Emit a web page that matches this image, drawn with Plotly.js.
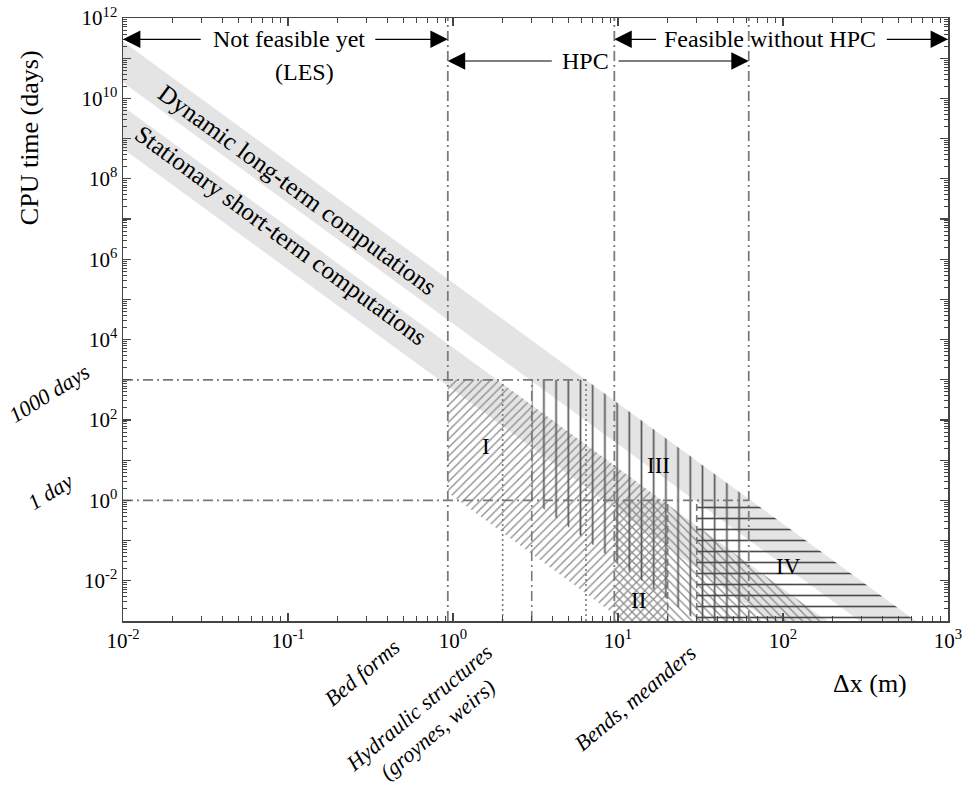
<!DOCTYPE html>
<html><head><meta charset="utf-8">
<script src="https://cdn.plot.ly/plotly-3.0.1.min.js"></script>
<style>body{margin:0;background:#fff}#chart{width:966px;height:787px}</style>
</head><body><div id="chart"></div>
<script>
// ---------------- data ----------------
const slope = -3;                       // CPU time ~ dx^-3 (log-log slope)
const bandNames = ['Dynamic long-term computations', 'Stationary short-term computations'];
const bandLowAt1m = [2.5e4, 560];       // CPU days at dx = 1 m, lower edge
const bandHighAt1m = [2.6e5, 6300];     // CPU days at dx = 1 m, upper edge

const regionNames = ['I', 'II', 'III', 'IV'];
const regionXMin = [0.93, 9.5, 3, 30];
const regionXMax = [20, 1000, 62, 1000];
const regionYMax = [1000, 1, 1000, 1];
const regionLowAt1m = [1.26, null, 27.5, null];
const regionHighAt1m = [6300, 6300, 2.6e5, 2.6e5];

const rangeNames = ['Not feasible yet', 'HPC', 'Feasible without HPC'];
const rangeStart = [0.01, 0.93, 9.5];
const rangeEnd = [0.93, 62, 1000];
const limitX = [0.93, 9.5, 62];

const thresholdDays = [1000, 1];
const thresholdLabels = ['1000 days', '1 day'];
const thresholdXEnd = [6.4, 62];

const scaleLineX = [2, 3, 6.4, 20, 30];
const scaleLineTop = [1000, 1000, 1000, 1, 1];

const xDecades = [-2, -1, 0, 1, 2, 3];
const yDecades = [-3, -2, -1, 0, 1, 2, 3, 4, 5, 6, 7, 8, 9, 10, 11, 12];

// ---------------- styles ----------------
const SERIF = 'Liberation Serif, Times New Roman, serif';
const DASHDOT = '10px,4px,2px,4px';
const scaleLineDash = ['2px,3px', DASHDOT, '2px,3px', '7px,4px', '7px,4px'];
const regionPattern = [
  {shape: '/', size: 6, solidity: 0.22, fgcolor: '#8c8c8c'},
  {shape: '\\', size: 6, solidity: 0.22, fgcolor: '#8c8c8c'},
  {shape: '|', size: 12.2, solidity: 0.14, fgcolor: '#5a5a5a'},
  {shape: '-', size: 11, solidity: 0.15, fgcolor: '#4a4a4a'}
];
const X0 = -2, X1 = 3, Y0 = -3, Y1 = 12;
const L = Math.log10;

function clip(poly, a, b, c) {
  const out = [];
  for (let i = 0; i < poly.length; i++) {
    const P = poly[i], Q = poly[(i + 1) % poly.length];
    const fp = a * P[0] + b * P[1] - c, fq = a * Q[0] + b * Q[1] - c;
    if (fp <= 0) out.push(P);
    if ((fp < 0 && fq > 0) || (fp > 0 && fq < 0)) {
      const t = fp / (fp - fq);
      out.push([P[0] + t * (Q[0] - P[0]), P[1] + t * (Q[1] - P[1])]);
    }
  }
  return out;
}
function polygon(cons) {
  let p = [[X0, Y0], [X1, Y0], [X1, Y1], [X0, Y1]];
  cons.forEach(k => { p = clip(p, k[0], k[1], k[2]); });
  p.push(p[0]);
  return {x: p.map(v => Math.pow(10, v[0])), y: p.map(v => Math.pow(10, v[1]))};
}
const below = h => [-slope, 1, L(h)];      // Y - sX <= log h
const above = l => [slope, -1, -L(l)];     // Y - sX >= log l

const traces = [];
// gray bands
bandNames.forEach((n, i) => {
  const p = polygon([below(bandHighAt1m[i]), above(bandLowAt1m[i])]);
  traces.push({x: p.x, y: p.y, type: 'scatter', mode: 'none', fill: 'toself',
    fillcolor: '#e4e4e4', hoverinfo: 'skip', name: n});
});
// hatched regions
regionNames.forEach((n, i) => {
  const cons = [[-1, 0, -L(regionXMin[i])], [1, 0, L(regionXMax[i])], [0, 1, L(regionYMax[i])],
    below(regionHighAt1m[i])];
  if (regionLowAt1m[i] !== null) cons.push(above(regionLowAt1m[i]));
  const p = polygon(cons);
  const pat = Object.assign({bgcolor: 'rgba(0,0,0,0)', fillmode: 'replace'}, regionPattern[i]);
  traces.push({x: p.x, y: p.y, type: 'scatter', mode: 'none', fill: 'toself',
    fillcolor: 'rgba(0,0,0,0)', fillpattern: pat, hoverinfo: 'skip', name: n});
});
// structure scale lines
scaleLineX.forEach((v, i) => {
  traces.push({x: [v, v], y: [Math.pow(10, Y0), scaleLineTop[i]], type: 'scatter', mode: 'lines',
    line: {color: '#7a7a7a', width: 1.6, dash: scaleLineDash[i]}, hoverinfo: 'skip'});
});
// threshold lines
thresholdDays.forEach((d, i) => {
  traces.push({x: [Math.pow(10, X0), thresholdXEnd[i]], y: [d, d], type: 'scatter', mode: 'lines',
    line: {color: '#777', width: 1.8, dash: DASHDOT}, hoverinfo: 'skip'});
});
// feasibility limits
limitX.forEach(v => {
  traces.push({x: [v, v], y: [Math.pow(10, Y0), Math.pow(10, Y1)], type: 'scatter', mode: 'lines',
    line: {color: '#7c7c7c', width: 1.8, dash: DASHDOT}, hoverinfo: 'skip'});
});

// ---------------- annotations ----------------
const ann = [];
const f = (s, extra) => Object.assign({family: SERIF, size: s, color: '#000'}, extra || {});
const C = {xanchor: 'center', yanchor: 'middle'};
// range arrows: row (log y), text centre, left tail, right tail (log x)
const rowY = [11.47, 10.93, 11.47];
const textC = [-0.994, 0.80, 1.921];
const tailL = [-1.52, 0.608, 1.24];
const tailR = [-0.48, 0.994, 2.62];
const arrowStyle = {text: '', showarrow: true, arrowhead: 2, arrowsize: 2.9, arrowwidth: 1.2,
  arrowcolor: '#000', standoff: 0, startstandoff: 0, axref: 'x', ayref: 'y', xref: 'x', yref: 'y'};
rangeNames.forEach((n, i) => {
  ann.push(Object.assign({x: L(rangeStart[i]), y: rowY[i], ax: tailL[i], ay: rowY[i]}, arrowStyle));
  ann.push(Object.assign({x: L(rangeEnd[i]), y: rowY[i], ax: tailR[i], ay: rowY[i]}, arrowStyle));
  ann.push(Object.assign({x: textC[i], y: rowY[i], xref: 'x', yref: 'y', text: n, showarrow: false, font: f(24)}, C));
});
ann.push(Object.assign({x: -0.903, y: 10.66, xref: 'x', yref: 'y', text: '(LES)', showarrow: false, font: f(24)}, C));

// band labels along the bands
const plotW = 825, plotH = 603;
const angle = Math.atan(-slope * (plotH / (Y1 - Y0)) / (plotW / (X1 - X0))) * 180 / Math.PI;
const bandLabelX = [-0.945, -1.04];
const bandLabelDy = [0, 0.2];
bandNames.forEach((n, i) => {
  const c = (L(bandLowAt1m[i]) + L(bandHighAt1m[i])) / 2;
  ann.push(Object.assign({x: bandLabelX[i], y: c + slope * bandLabelX[i] + bandLabelDy[i], xref: 'x', yref: 'y',
    text: n, showarrow: false, textangle: angle, font: f(25)}, C));
});
// region labels
const regLabX = [0.2, 1.127, 1.248, 2.036];
const regLabY = [1.34, -2.49, 0.87, -1.64];
regionNames.forEach((n, i) => {
  ann.push(Object.assign({x: regLabX[i], y: regLabY[i], xref: 'x', yref: 'y', text: n, showarrow: false, font: f(23)}, C));
});
// threshold labels
const thrLabPos = [[-0.090, 0.378], [-0.088, 0.215]];
thresholdLabels.forEach((t, i) => {
  ann.push(Object.assign({x: thrLabPos[i][0], y: thrLabPos[i][1], xref: 'paper', yref: 'paper', text: '<i>' + t + '</i>',
    showarrow: false, textangle: -32, font: f(22)}, C));
});
// structure labels
const structLabels = ['Bed forms', 'Hydraulic structures<br>(groynes, weirs)', 'Bends, meanders'];
const structPos = [[0.290, -0.085], [0.370, -0.163], [0.620, -0.128]];
structLabels.forEach((t, i) => {
  ann.push(Object.assign({x: structPos[i][0], y: structPos[i][1], xref: 'paper', yref: 'paper', text: '<i>' + t + '</i>',
    showarrow: false, textangle: -40, font: f(22)}, C));
});
ann.push(Object.assign({x: 0.905, y: -0.103, xref: 'paper', yref: 'paper', text: '\u0394x (m)', showarrow: false, font: f(26)}, C));
ann.push(Object.assign({x: -0.113, y: 0.802, xref: 'paper', yref: 'paper', text: 'CPU time (days)', showarrow: false,
  textangle: -90, font: f(26)}, C));

// ---------------- axes ----------------
function minorVals(decs) {
  const out = [];
  for (let k = decs[0]; k < decs[decs.length - 1]; k++) for (let m = 2; m <= 9; m++) out.push(m * Math.pow(10, k));
  return out;
}
const axisCommon = {type: 'log', showgrid: false, zeroline: false, showline: true, linecolor: '#444',
  linewidth: 1.5, mirror: 'allticks', ticks: 'inside', ticklen: 8, tickcolor: '#444', tickwidth: 1.2,
  tickmode: 'array', tickfont: f(21)};
const layout = {
  width: 966, height: 787, margin: {l: 123, r: 18, t: 18, b: 166},
  paper_bgcolor: '#fff', plot_bgcolor: '#fff', showlegend: false, hovermode: false,
  xaxis: Object.assign({}, axisCommon, {range: [X0, X1],
    tickvals: xDecades.map(k => Math.pow(10, k)), ticktext: xDecades.map(k => '10<sup>' + k + '</sup>'),
    minor: {tickmode: 'array', tickvals: minorVals(xDecades), ticks: 'inside', ticklen: 5, tickcolor: '#444', tickwidth: 1}}),
  yaxis: Object.assign({}, axisCommon, {range: [Y0, Y1],
    tickvals: yDecades.map(k => Math.pow(10, k)), ticktext: yDecades.map(k => (k % 2 === 0) ? '10<sup>' + k + '</sup>' : ''),
    minor: {tickmode: 'array', tickvals: minorVals(yDecades), ticks: 'inside', ticklen: 4, tickcolor: '#444', tickwidth: 1}}),
  annotations: ann
};
Plotly.newPlot('chart', traces, layout, {displayModeBar: false, staticPlot: true});
</script></body></html>
